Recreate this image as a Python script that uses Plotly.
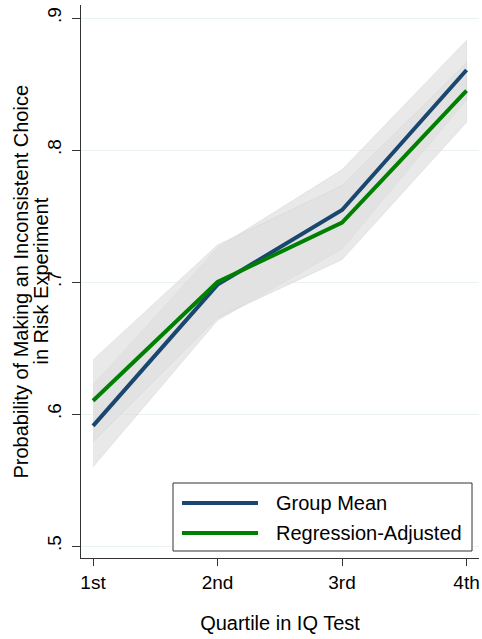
import plotly.graph_objects as go

# Quartiles of the IQ test and the probability of an inconsistent choice
quartiles = ["1st", "2nd", "3rd", "4th"]
quartile_pos = [1, 2, 3, 4]

group_mean = [0.591, 0.698, 0.7545, 0.8606]
group_lower = [0.560, 0.671, 0.725, 0.838]
group_upper = [0.622, 0.726, 0.785, 0.883]

reg_adjusted = [0.610, 0.700, 0.745, 0.845]
reg_lower = [0.579, 0.673, 0.717, 0.821]
reg_upper = [0.641, 0.728, 0.773, 0.866]

y_ticks = [0.5, 0.6, 0.7, 0.8, 0.9]
y_ticktext = [".5", ".6", ".7", ".8", ".9"]

series_names = ["Group Mean", "Regression-Adjusted"]
NAVY = "#1a476f"
GREEN = "#008000"
FONT = "Liberation Sans, Arial, sans-serif"

W, H = 482, 639
ML, MR, MT, MB = 81, 3, 5, 81
PW, PH = W - ML - MR, H - MT - MB


def px_x(p):
    return (p - ML) / PW


def px_y(p):
    return (H - MB - p) / PH


fig = go.Figure()

# confidence bands
for lo, hi in [(group_lower, group_upper), (reg_lower, reg_upper)]:
    fig.add_trace(go.Scatter(
        x=quartile_pos + quartile_pos[::-1],
        y=hi + lo[::-1],
        mode="lines",
        fill="toself",
        fillcolor="rgba(222,222,222,0.68)",
        line=dict(color="rgba(212,212,212,0.5)", width=1),
        hoverinfo="skip",
        showlegend=False,
    ))

fig.add_trace(go.Scatter(x=quartile_pos, y=group_mean, mode="lines",
                         line=dict(color=NAVY, width=4), name=series_names[0],
                         showlegend=False))
fig.add_trace(go.Scatter(x=quartile_pos, y=reg_adjusted, mode="lines",
                         line=dict(color=GREEN, width=4), name=series_names[1],
                         showlegend=False))

fig.update_xaxes(
    range=[0.9035, 4.1],
    tickvals=quartile_pos, ticktext=quartiles,
    showgrid=False, zeroline=False,
    showline=True, linecolor="#333333", linewidth=1,
    ticks="outside", ticklen=7, tickcolor="#333333",
    tickfont=dict(size=19, color="black", family=FONT),
    title=dict(text="Quartile in IQ Test", standoff=24,
               font=dict(size=20, color="black", family=FONT)),
)
fig.update_yaxes(
    range=[0.49091, 0.90985],
    tickvals=y_ticks, ticktext=y_ticktext, tickangle=-90,
    showgrid=True, gridcolor="#eaf2f3", gridwidth=1, zeroline=False,
    showline=True, linecolor="#333333", linewidth=1,
    ticks="outside", ticklen=8, tickcolor="#333333",
    ticklabelstandoff=3,
    tickfont=dict(size=19, color="black", family=FONT),
)

# y-axis title, two lines
fig.add_annotation(x=0, y=0.5, xref="paper", yref="paper", xshift=20 - ML,
                   text="Probability of Making an Inconsistent Choice",
                   textangle=-90, showarrow=False, xanchor="center", yanchor="middle",
                   font=dict(size=20, color="black", family=FONT))
fig.add_annotation(x=0, y=0.5, xref="paper", yref="paper", xshift=40 - ML,
                   text="in Risk Experiment",
                   textangle=-90, showarrow=False, xanchor="center", yanchor="middle",
                   font=dict(size=20, color="black", family=FONT))

# legend box
fig.add_shape(type="rect", xref="paper", yref="paper",
              x0=px_x(173), x1=px_x(472), y0=px_y(551), y1=px_y(483),
              line=dict(color="#333333", width=1), fillcolor="white", layer="above")
for name, color, row_y in [(series_names[0], NAVY, 503), (series_names[1], GREEN, 533)]:
    fig.add_shape(type="line", xref="paper", yref="paper",
                  x0=px_x(182), x1=px_x(258), y0=px_y(row_y), y1=px_y(row_y),
                  line=dict(color=color, width=4), layer="above")
    fig.add_annotation(x=px_x(274), y=px_y(row_y), xref="paper", yref="paper",
                       text=name, showarrow=False, xanchor="left", yanchor="middle",
                       font=dict(size=20, color="black", family=FONT))

fig.update_layout(
    width=W, height=H,
    margin=dict(l=ML, r=MR, t=MT, b=MB),
    plot_bgcolor="white", paper_bgcolor="white",
    showlegend=False,
)

fig.write_html("out.html")
